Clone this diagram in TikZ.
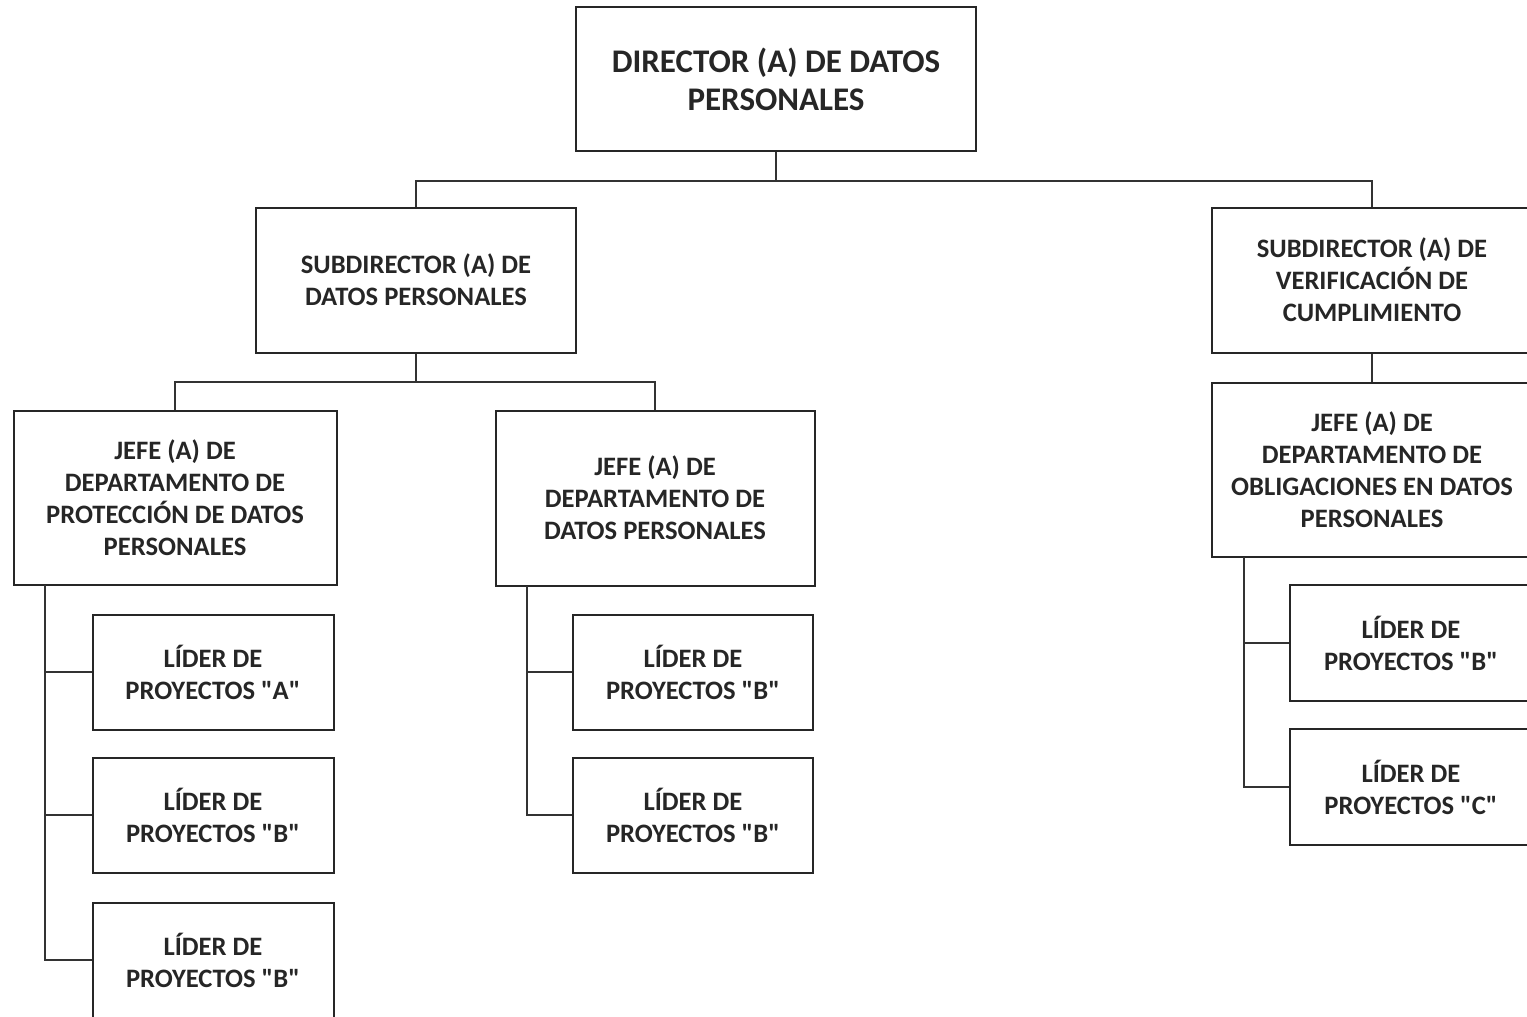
\documentclass[tikz,border=0pt]{standalone}
\usepackage{fontspec}
\setmainfont{Carlito}
\usepackage{tikz}
\usetikzlibrary{positioning}
\tikzset{
	unit/.style={draw=black!85, line width=1pt, fill=white, align=center, inner sep=0pt,
		font=\bfseries\fontsize{13.3}{16}\selectfont, text=black!85},
	topunit/.style={unit, font=\bfseries\fontsize{16.5}{19}\selectfont},
	link/.style={draw=black!80, line width=1pt}
}
\newcommand{\proj}[1]{LÍDER DE\\PROYECTOS \textquotedbl#1\textquotedbl}

\begin{document}
\begin{tikzpicture}[x=0.5pt, y=-0.5pt]
	
	\useasboundingbox (0,0) rectangle (1527,1017);
	
	% director
	\node[topunit, minimum width=200pt, minimum height=72pt] (dir) at (776,79) {DIRECTOR (A) DE DATOS\\PERSONALES};
	
	% subdirectors
	\node[unit, minimum width=160pt, minimum height=72.5pt] (sub1) at (416,280) {SUBDIRECTOR (A) DE\\DATOS PERSONALES};
	\node[unit, minimum width=160pt, minimum height=72.5pt] (sub2) at (1372,280) {SUBDIRECTOR (A) DE\\VERIFICACIÓN DE\\CUMPLIMIENTO};
	
	% department heads
	\node[unit, minimum width=161.5pt, minimum height=87pt] (jefe1) at (175,498) {JEFE (A) DE\\DEPARTAMENTO DE\\PROTECCIÓN DE DATOS\\PERSONALES};
	\node[unit, minimum width=159.5pt, minimum height=87.5pt] (jefe2) at (655,498) {JEFE (A) DE\\DEPARTAMENTO DE\\DATOS PERSONALES};
	\node[unit, minimum width=160pt, minimum height=87pt] (jefe3) at (1372,470) {JEFE (A) DE\\DEPARTAMENTO DE\\OBLIGACIONES EN DATOS\\PERSONALES};
	
	% project leaders
	\node[unit, minimum width=120.5pt, minimum height=57.5pt] (lid1a) at (213,672) {\proj{A}};
	\node[unit, minimum width=120.5pt, minimum height=57.5pt] (lid1b) at (213,815) {\proj{B}};
	\node[unit, minimum width=120.5pt, minimum height=57.5pt] (lid1c) at (213,960) {\proj{B}};
	\node[unit, minimum width=120pt, minimum height=57.5pt] (lid2a) at (693,672) {\proj{B}};
	\node[unit, minimum width=120pt, minimum height=57.5pt] (lid2b) at (693,815) {\proj{B}};
	\node[unit, minimum width=121pt, minimum height=58pt] (lid3a) at (1411,643) {\proj{B}};
	\node[unit, minimum width=121pt, minimum height=58pt] (lid3b) at (1411,787) {\proj{C}};
	
	% director to subdirectors
	\draw[link] (dir.south) -- +(0,29) -| (sub1.north);
	\draw[link] (dir.south) -- +(0,29) -| (sub2.north);
	
	% subdirectors to heads
	\draw[link] (sub1.south) -- +(0,28) -| (jefe1.north);
	\draw[link] (sub1.south) -- +(0,28) -| (jefe2.north);
	\draw[link] (sub2.south) -- (jefe3.north);
	
	% side rails
	\coordinate (rail1) at (45,585);
	\coordinate (rail2) at (527,586);
	\coordinate (rail3) at (1244,557);
	
	\draw[link] (rail1) |- (lid1c.west);
	\draw[link] (rail1 |- lid1a.west) -- (lid1a.west);
	\draw[link] (rail1 |- lid1b.west) -- (lid1b.west);
	
	\draw[link] (rail2) |- (lid2b.west);
	\draw[link] (rail2 |- lid2a.west) -- (lid2a.west);
	
	\draw[link] (rail3) |- (lid3b.west);
	\draw[link] (rail3 |- lid3a.west) -- (lid3a.west);
	
\end{tikzpicture}
\end{document}
